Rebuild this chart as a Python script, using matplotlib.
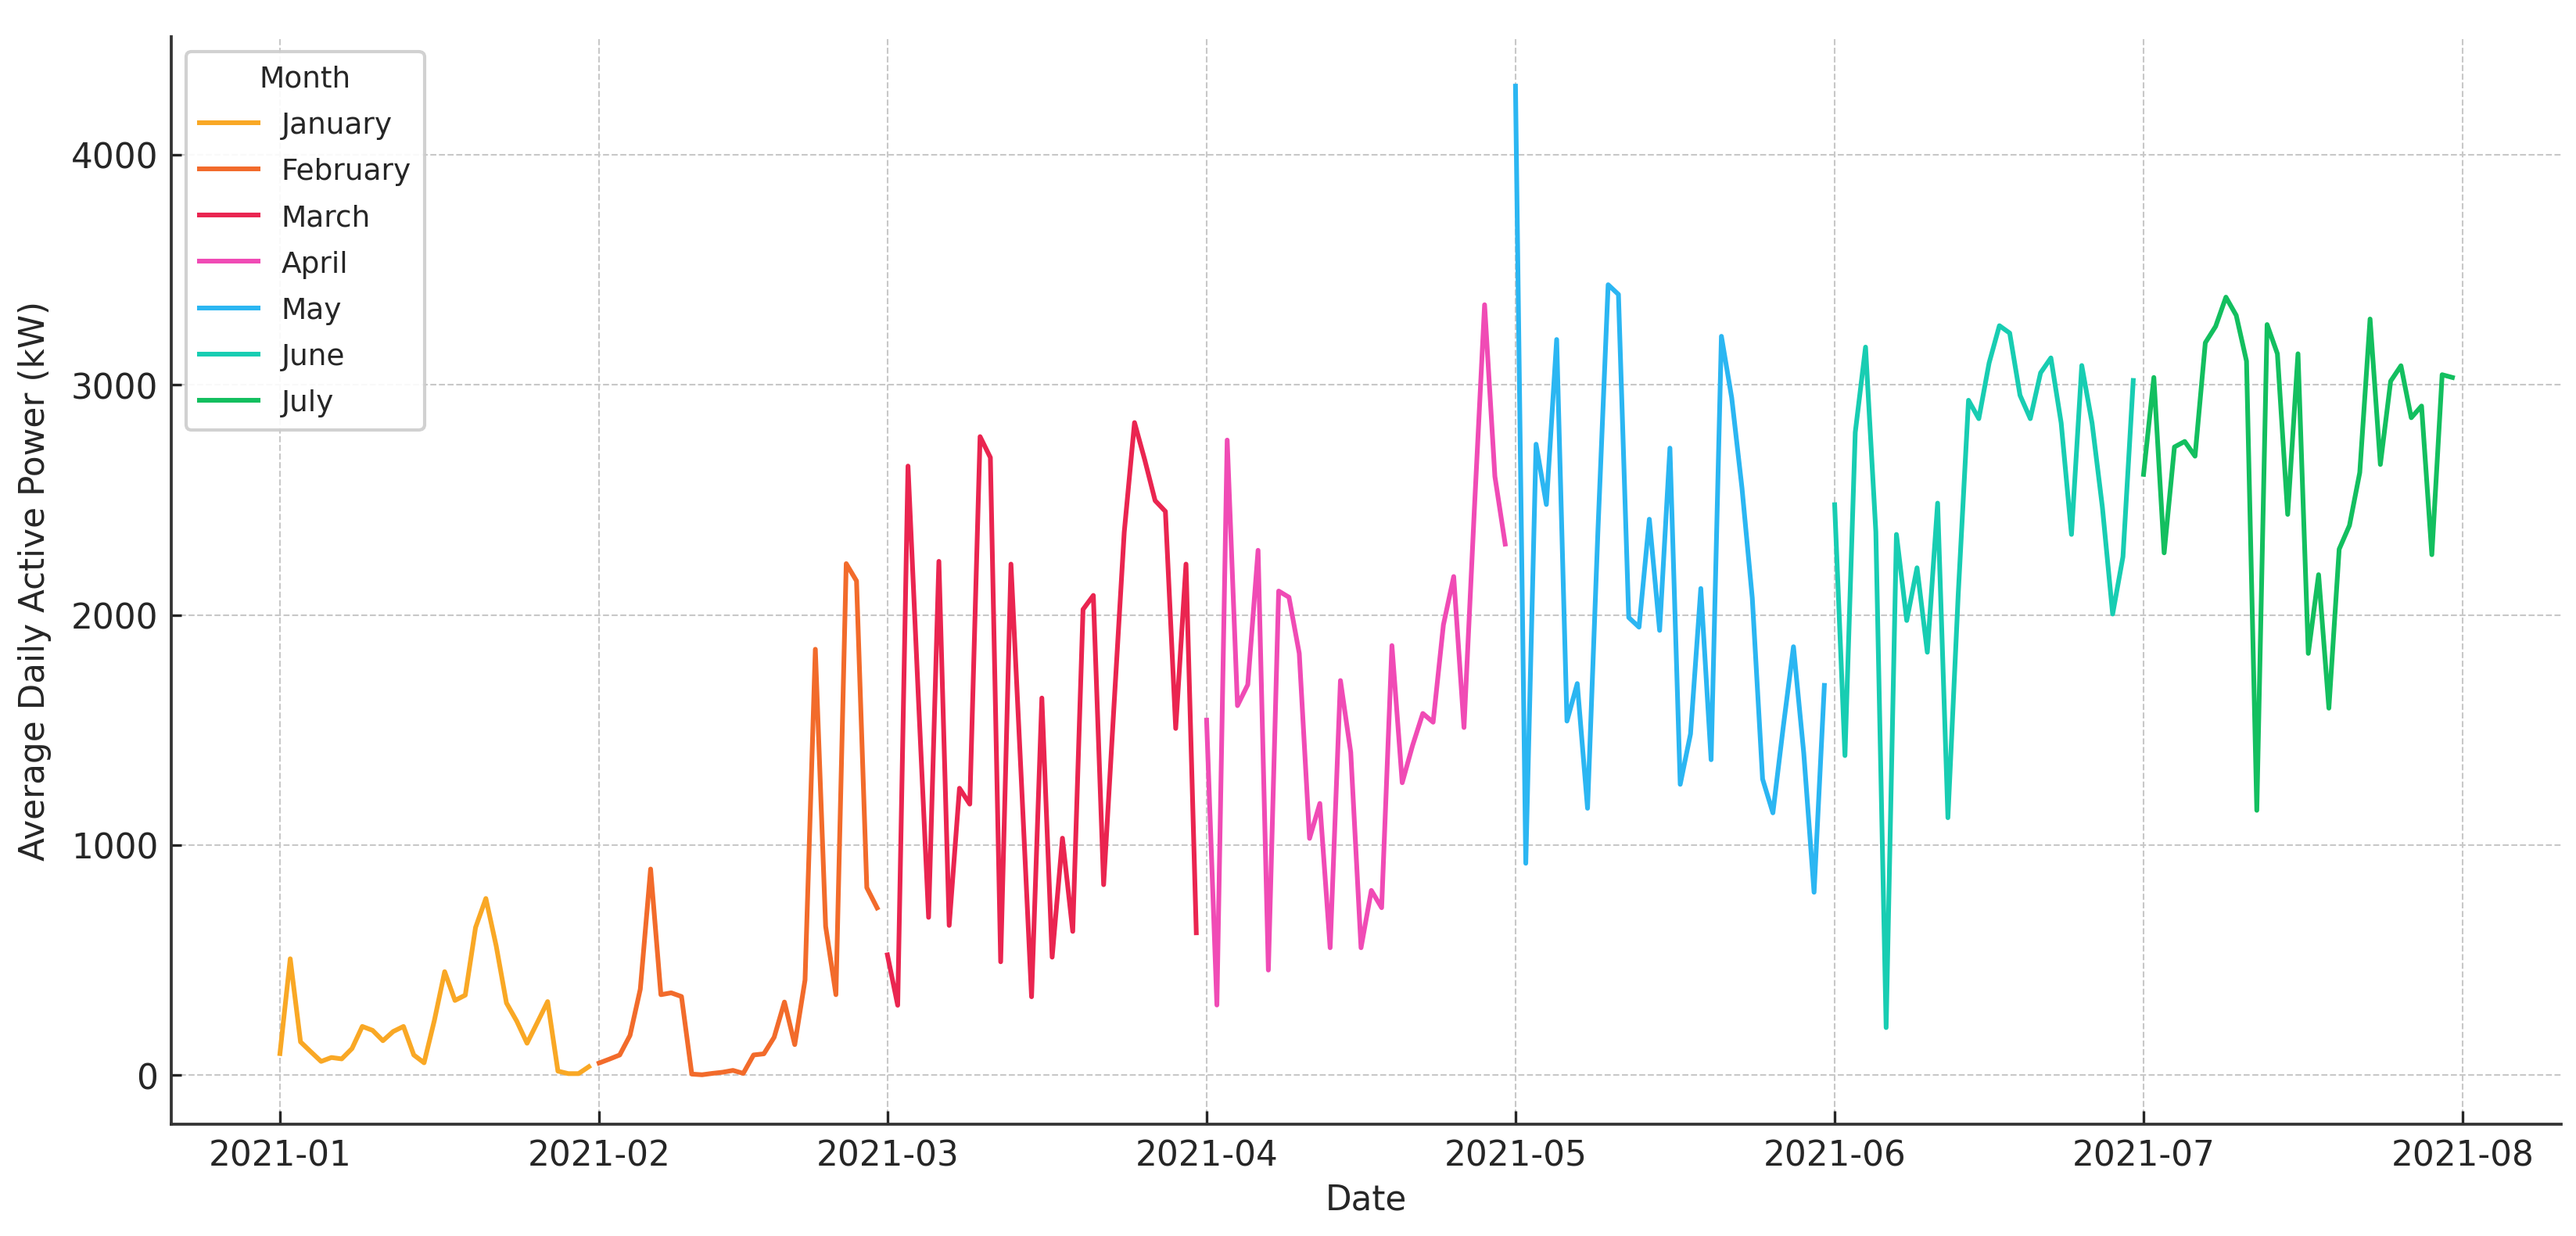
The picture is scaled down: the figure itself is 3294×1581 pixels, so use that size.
import matplotlib
matplotlib.use("Agg")
import matplotlib.pyplot as plt
import matplotlib.dates as mdates
import pandas as pd

# ---- data ----
months = ["January", "February", "March", "April", "May", "June", "July"]
month_numbers = [1, 2, 3, 4, 5, 6, 7]

jan = [94, 506, 145, 102, 60, 77, 71, 116, 212, 195, 150, 190, 212, 88, 54, 238,
       450, 325, 348, 642, 768, 563, 314, 235, 139, 229, 320, 18, 7, 7, 37]
feb = [53, 70, 88, 173, 374, 896, 350, 358, 342, 5, 2, 8, 13, 21, 8, 88, 93, 165,
       318, 133, 414, 1851, 647, 350, 2223, 2148, 815, 727]
mar = [523, 304, 2647, 1650, 686, 2233, 651, 1247, 1178, 2775, 2684, 493, 2221,
       1290, 341, 1639, 513, 1030, 625, 2024, 2085, 828, 1600, 2359, 2836, 2673,
       2497, 2450, 1507, 2221, 619]
apr = [1543, 305, 2760, 1606, 1697, 2281, 457, 2104, 2077, 1833, 1029, 1181, 554,
       1715, 1403, 554, 803, 728, 1867, 1271, 1432, 1572, 1534, 1957, 2167, 1511,
       2452, 3348, 2602, 2308]
may = [4298, 921, 2742, 2480, 3197, 1539, 1702, 1160, 2357, 3435, 3393, 1989, 1947,
       2416, 1933, 2725, 1264, 1483, 2115, 1371, 3211, 2944, 2551, 2073, 1287, 1140,
       1511, 1862, 1399, 795, 1694]
jun = [2479, 1389, 2793, 3164, 2361, 207, 2350, 1976, 2205, 1838, 2486, 1119, 2089,
       2933, 2853, 3095, 3257, 3225, 2955, 2853, 3052, 3117, 2834, 2350, 3084, 2834,
       2469, 2004, 2253, 3019]
jul = [2611, 3032, 2270, 2730, 2754, 2690, 3183, 3254, 3381, 3302, 3103, 1151, 3262,
       3135, 2437, 3135, 1833, 2175, 1595, 2286, 2389, 2619, 3286, 2654, 3016, 3083,
       2857, 2908, 2262, 3044, 3032]

series = [jan, feb, mar, apr, may, jun, jul]
colors = ["#F9A825", "#F26B2B", "#EA2550", "#F04BB5", "#2BB6F2", "#18CDB2", "#13BF5F"]

# ---- figure ----
plt.rcParams["font.family"] = ["DejaVu Sans"]
text_color = "#262626"

fig, ax = plt.subplots(figsize=(10.98, 5.2733), dpi=300)
fig.subplots_adjust(left=0.0665, right=0.9942, bottom=0.0904, top=0.9697)

for name, mnum, vals, col in zip(months, month_numbers, series, colors):
    dates = pd.date_range(f"2021-{mnum:02d}-01", periods=len(vals), freq="D")
    ax.plot(dates, vals, color=col, lw=1.45, label=name)

ax.xaxis.set_major_locator(mdates.MonthLocator())
ax.xaxis.set_major_formatter(mdates.DateFormatter("%Y-%m"))

ax.grid(True, linestyle="--", color="#c8c8c8", linewidth=0.5)
ax.set_axisbelow(True)
for side in ["top", "right"]:
    ax.spines[side].set_visible(False)
for side in ["left", "bottom"]:
    ax.spines[side].set_color("#333333")
    ax.spines[side].set_linewidth(0.9)

ax.tick_params(axis="both", direction="in", labelsize=10.5, colors=text_color,
               labelcolor=text_color)
ax.tick_params(axis="x", length=4.2, pad=4.5)
ax.tick_params(axis="y", length=3.0, pad=4)

ax.set_xlabel("Date", fontsize=10.5, color=text_color, labelpad=3)
ax.set_ylabel("Average Daily Active Power (kW)", fontsize=10.5, color=text_color,
              labelpad=6)

leg = ax.legend(title="Month", loc="upper left", fontsize=9, title_fontsize=9,
                frameon=True, fancybox=True, framealpha=0.9, edgecolor="#cccccc",
                borderaxespad=0.5, handlelength=2.0, labelspacing=0.62,
                borderpad=0.45)
for t in leg.get_texts():
    t.set_color(text_color)
leg.get_title().set_color(text_color)

fig.savefig("out.png", dpi=300)
